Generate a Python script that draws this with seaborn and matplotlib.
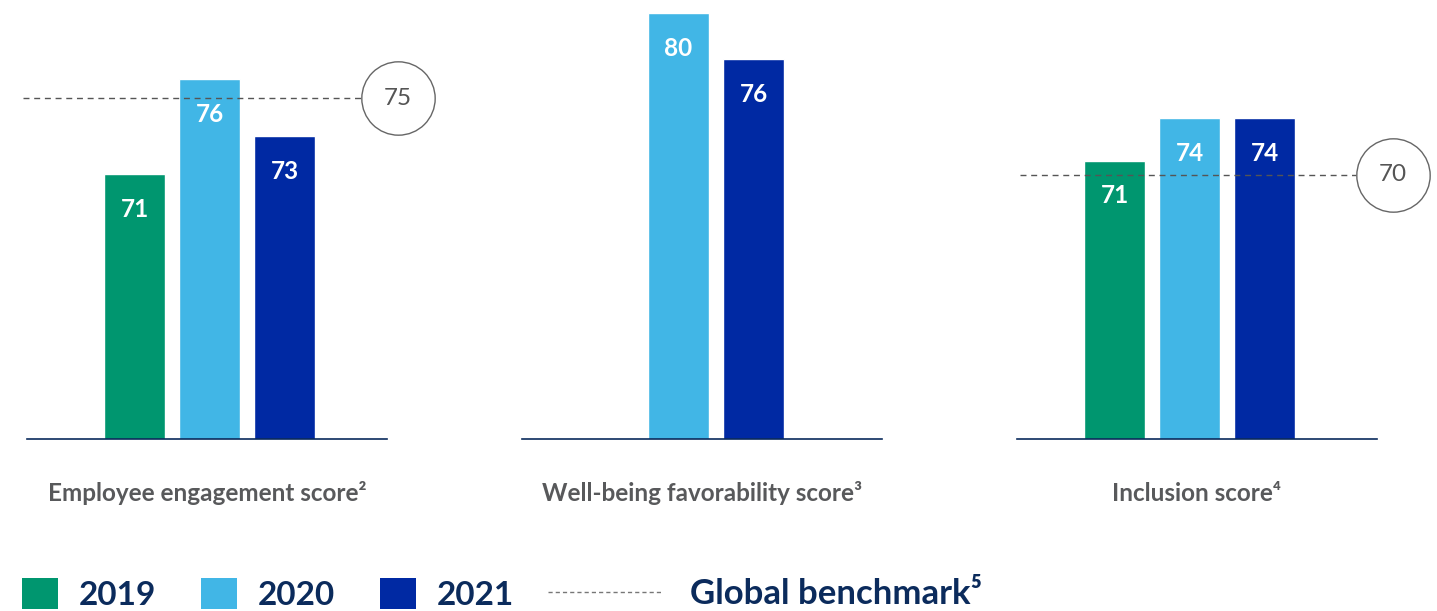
import matplotlib
matplotlib.use("Agg")
import matplotlib.pyplot as plt
from matplotlib.patches import Patch
from matplotlib.lines import Line2D
import seaborn as sns
import pandas as pd

# ---- data ----
years = ["2019", "2020", "2021"]
panels = ["Employee engagement score²", "Well-being favorability score³", "Inclusion score⁴"]
engagement = [71, 76, 73]
wellbeing = [None, 80, 76]
inclusion = [71, 74, 74]
benchmarks = [75, None, 70]
legend_bench = "Global benchmark⁵"

colors = ["#00966F", "#41B6E6", "#0029A3"]
navy = "#0B2B5C"
gray_text = "#58595B"
gray_line = "#555555"

sns.set_theme(style="white")
plt.rcParams["font.family"] = ["Lato", "DejaVu Sans"]

W, H = 1437, 611
fig = plt.figure(figsize=(W / 100, H / 100), dpi=100)

# layout (pixels): axis left edge, slot-0 offset, y-scale (bottom, top)
ax_left = [27, 522, 1017]
ax_w = 360
slot_px = 75
slot0_px = [134.5, 603.5, 1114.5]
ylims = [(57.0, 80.2), (43.0, 81.17), (51.34, 82.36)]
circ_x = [398, None, 1393]
dash_x0 = [23, None, 1020]
base_px = 439

series = [engagement, wellbeing, inclusion]
for i in range(3):
    ax = fig.add_axes([ax_left[i] / W, (H - base_px) / H, ax_w / W, base_px / H])
    df = pd.DataFrame({"year": years, "value": series[i]}).dropna()
    sns.barplot(data=df, x="year", y="value", hue="year", order=years,
                hue_order=years, palette=colors, width=61 / 75, ax=ax,
                legend=False, saturation=1, dodge=False)
    x0 = -(slot0_px[i] - ax_left[i]) / slot_px
    ax.set_xlim(x0, x0 + ax_w / slot_px)
    ax.set_ylim(*ylims[i])
    for j, v in enumerate(series[i]):
        if v is None:
            continue
        ax.annotate(str(v), (j, v), xytext=(0, -25.2), textcoords="offset points",
                    ha="center", va="center", color="white", fontsize=17.5,
                    fontweight="bold")
    b = benchmarks[i]
    if b is not None:
        tr = ax.get_yaxis_transform()
        fx0 = (dash_x0[i] - ax_left[i]) / ax_w
        fc = (circ_x[i] - ax_left[i]) / ax_w
        fx1 = fc - 36.7 / ax_w
        ax.plot([fx0, fx1], [b, b], transform=tr, color=gray_line, lw=1.0,
                dashes=(4.3, 3.4), clip_on=False, zorder=4)
        ax.scatter([fc], [b], s=2790, transform=tr, facecolor="white",
                   edgecolor="#666666", linewidth=1.0, clip_on=False, zorder=5)
        ax.text(fc, b, str(b), transform=tr, ha="center", va="center",
                fontsize=17.5, color=gray_line, zorder=6)
    for s in ["top", "left", "right"]:
        ax.spines[s].set_visible(False)
    ax.spines["bottom"].set_color(navy)
    ax.spines["bottom"].set_linewidth(1.2)
    ax.set_xticks([])
    ax.set_yticks([])
    ax.set_xlabel("")
    ax.set_ylabel("")
    ax.annotate(panels[i], (0.5, 0), xycoords="axes fraction",
                xytext=(0, -39), textcoords="offset points", ha="center",
                va="center", fontsize=17.5, fontweight="bold", color=gray_text)

# ---- legend ----
handles = [Patch(facecolor=c, edgecolor="none") for c in colors]
leg1 = fig.legend(handles, years, loc="center left",
                  bbox_to_anchor=(22 / W, (H - 594) / H), ncol=3, frameon=False,
                  fontsize=24, handlelength=1.08, handleheight=1.05,
                  handletextpad=0.62, columnspacing=1.35, borderpad=0,
                  borderaxespad=0)
for t in leg1.get_texts():
    t.set_color(navy)
    t.set_fontweight("bold")
line_h = Line2D([0], [0], color="#777777", lw=1.0, dashes=(3.0, 2.2))
leg2 = fig.legend([line_h], [legend_bench], loc="center left",
                  bbox_to_anchor=(548 / W, (H - 594) / H), frameon=False,
                  fontsize=25, handlelength=3.3, handletextpad=0.8,
                  borderpad=0, borderaxespad=0)
for t in leg2.get_texts():
    t.set_color(navy)
    t.set_fontweight("bold")

fig.savefig("out.png", dpi=100)
